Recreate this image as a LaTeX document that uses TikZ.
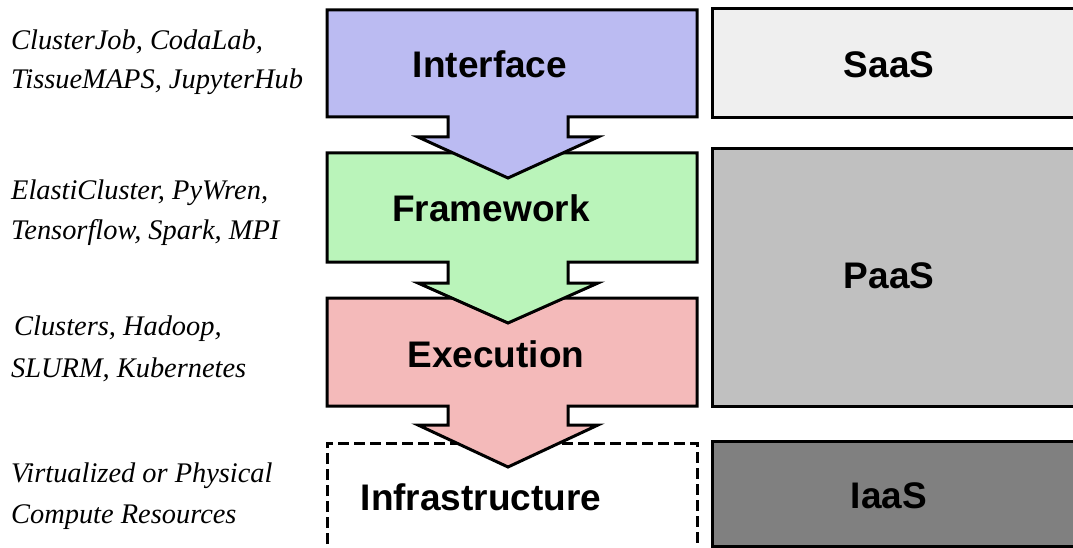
\documentclass[tikz,border=0pt]{standalone}
\usepackage{fontspec}
\setmainfont{Liberation Serif}
\newfontfamily\hsans{Liberation Sans}
\definecolor{ifcol}{RGB}{187,187,242}
\definecolor{fwcol}{RGB}{186,244,186}
\definecolor{excol}{RGB}{244,186,186}
\definecolor{saascol}{RGB}{239,239,239}
\definecolor{paascol}{RGB}{192,192,192}
\definecolor{iaascol}{RGB}{128,128,128}
\begin{document}
\begin{tikzpicture}[x=1pt,y=-1pt,line join=miter,
  layerbox/.style={draw=black,line width=3pt},
  layertext/.style={font=\hsans\bfseries\fontsize{37}{44}\selectfont,anchor=base,inner sep=0pt},
  tooltext/.style={font=\itshape\fontsize{28.4}{34}\selectfont,anchor=base west,inner sep=0pt}]
\useasboundingbox (0,0) rectangle (1073,548);
\clip (0,0) rectangle (1073,548);
% infrastructure (dashed, open at bottom)
\draw[line width=3pt,dash pattern=on 11pt off 5pt] (327,560) -- (327,443) -- (697,443) -- (697,560);
% execution
\path[layerbox,fill=excol] (327,298) -- (697,298) -- (697,406) -- (568,406) -- (568,425) -- (598,425) -- (508,467) -- (418,425) -- (448,425) -- (448,406) -- (327,406) -- cycle;
% framework
\path[layerbox,fill=fwcol] (327,153) -- (697,153) -- (697,262) -- (568,262) -- (568,283) -- (598,283) -- (508,323) -- (418,283) -- (448,283) -- (448,262) -- (327,262) -- cycle;
% interface
\path[layerbox,fill=ifcol] (327,10) -- (697,10) -- (697,117) -- (568,117) -- (568,137) -- (598,137) -- (508,178) -- (418,137) -- (448,137) -- (448,117) -- (327,117) -- cycle;
% right column
\path[layerbox,fill=saascol] (712,9) rectangle (1090,118);
\path[layerbox,fill=paascol] (712,149) rectangle (1090,406);
\path[layerbox,fill=iaascol] (712,441) rectangle (1090,546);
% layer labels
\node[layertext] (ifc) at (490,78) {Interface};
\node[layertext] (fw) at (491,222) {Framework};
\node[layertext] (ex) at (496,367) {Execution};
\node[layertext] (inf) at (481,510) {Infrastructure};
\node[layertext] (saas) at (889,78) {SaaS};
\node[layertext] (paas) at (889,288) {PaaS};
\node[layertext] (iaas) at (889,508) {IaaS};
% tool lists
\node[tooltext] (t1a) at (11,50) {ClusterJob, CodaLab,};
\node[tooltext] (t1b) at (11,89) {TissueMAPS, JupyterHub};
\node[tooltext] (t2a) at (11,200) {ElastiCluster, PyWren,};
\node[tooltext] (t2b) at (11,239) {Tensorflow, Spark, MPI};
\node[tooltext] (t3a) at (14,335) {Clusters, Hadoop,};
\node[tooltext] (t3b) at (11,377) {SLURM, Kubernetes};
\node[tooltext] (t4a) at (11,482) {Virtualized or Physical};
\node[tooltext] (t4b) at (11,523) {Compute Resources};
\end{tikzpicture}
\end{document}
